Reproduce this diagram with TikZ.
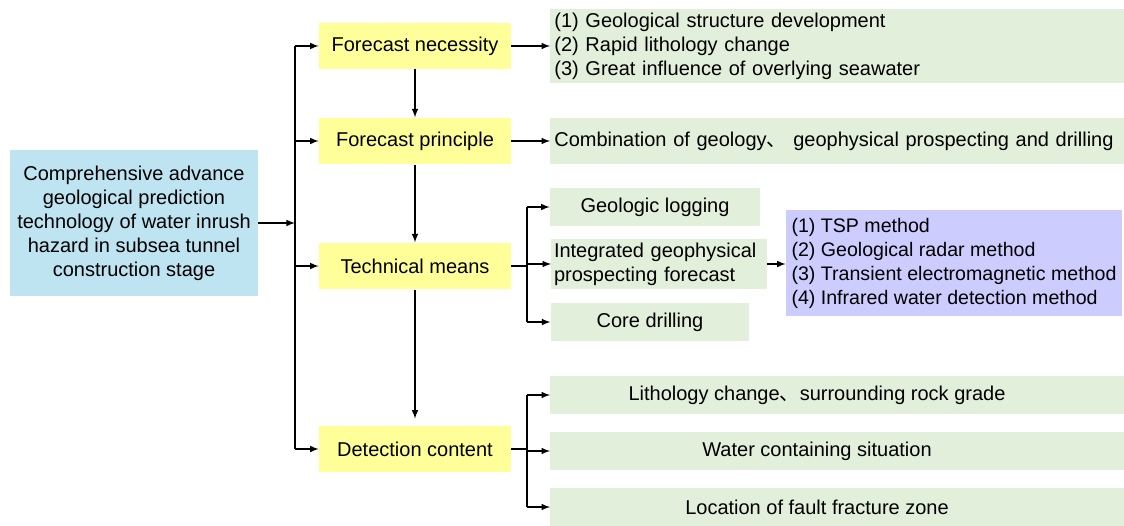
\documentclass[tikz,border=0pt]{standalone}
\usepackage{fontspec}
\setmainfont{Liberation Sans}
\newfontfamily\cjk{Noto Sans CJK SC}
\definecolor{rootblue}{RGB}{190,228,242}
\definecolor{stepyellow}{RGB}{255,255,153}
\definecolor{itemgreen}{RGB}{226,239,218}
\definecolor{methodpurple}{RGB}{204,204,255}

\begin{document}
\begin{tikzpicture}[x=0.75pt, y=-0.75pt,
    every node/.style={inner sep=3pt, font=\fontsize{15pt}{18pt}\selectfont},
    stepbox/.style={fill=stepyellow, minimum width=144pt},
    itembox/.style={fill=itemgreen},
    link/.style={line width=1.2pt, ->, >=latex}]
    \useasboundingbox (0,0) rectangle (1124,525);

    \node[fill=rootblue, minimum width=186pt, minimum height=109.5pt, align=center] (root) at (134,223)
        {Comprehensive advance\\geological prediction\\technology of water inrush\\hazard in subsea tunnel\\construction stage};

    \node[stepbox, minimum height=34pt] (fn) at (415,46) {Forecast necessity};
    \node[stepbox, minimum height=35pt] (fp) at (415,141) {Forecast principle};
    \node[stepbox, minimum height=35pt] (tm) at (415,266) {Technical means};
    \node[stepbox, minimum height=35pt] (dc) at (415,449) {Detection content};

    \node[itembox, text width=424pt, minimum height=56pt, align=left] (nl) at (837,46)
        {(1) Geological structure development\\(2) Rapid lithology change\\(3) Great influence of overlying seawater};
    \node[itembox, text width=424pt, minimum height=35pt, align=left] (pl) at (837,141)
        {Combination of geology{\cjk 、} geophysical prospecting and drilling};

    \node[itembox, minimum width=157.5pt, minimum height=29pt] (gl) at (655,207) {Geologic logging};
    \node[itembox, text width=157.5pt, minimum height=35pt, align=left, inner xsep=2pt] (ig) at (659,264)
        {Integrated geophysical\\prospecting forecast};
    \node[itembox, minimum width=149pt, minimum height=29pt] (cd) at (650,322) {Core drilling};
    \node[fill=methodpurple, minimum width=252pt, minimum height=79.5pt, align=left, inner xsep=1pt,
          font=\fontsize{14.7pt}{18pt}\selectfont] (mt) at (954,263)
        {(1) TSP method\\(2) Geological radar method\\(3) Transient electromagnetic method\\(4) Infrared water detection method};

    \node[itembox, minimum width=430pt, minimum height=28.5pt] (lc) at (837,395) {Lithology change{\cjk 、}surrounding rock grade\kern30pt};
    \node[itembox, minimum width=430pt, minimum height=28.5pt] (wc) at (837,451) {Water containing situation\kern30pt};
    \node[itembox, minimum width=430pt, minimum height=28.5pt] (lf) at (837,507) {Location of fault fracture zone\kern30pt};

    \coordinate (t1) at (295,46);
    \coordinate (t2) at (295,449);
    \coordinate (b1) at (527,207);
    \coordinate (b2) at (527,322);
    \coordinate (c1) at (527,395);
    \coordinate (c2) at (527,507);

    \draw[line width=1.2pt] (t1) -- (t2);
    \draw[link] (root.east) -- (root.east -| t1);
    \foreach \n in {fn, fp, tm, dc}
        \draw[link] (\n.west -| t1) -- (\n.west);

    \draw[link] (fn) -- (fp);
    \draw[link] (fp) -- (tm);
    \draw[link, shorten >=5pt] (tm) -- (dc);

    \draw[link] (fn.east) -- (nl.west |- fn.east);
    \draw[link] (fp.east) -- (pl.west |- fp.east);

    \draw[line width=1.2pt] (tm.east) -- (tm.east -| b1);
    \draw[line width=1.2pt] (b1) -- (b2);
    \foreach \n in {gl, ig, cd}
        \draw[link] (\n.west -| b1) -- (\n.west);
    \draw[link] (ig.east) -- (mt.west |- ig.east);

    \draw[line width=1.2pt] (dc.east) -- (dc.east -| c1);
    \draw[line width=1.2pt] (c1) -- (c2);
    \foreach \n in {lc, wc, lf}
        \draw[link] (\n.west -| c1) -- (\n.west);
\end{tikzpicture}
\end{document}
